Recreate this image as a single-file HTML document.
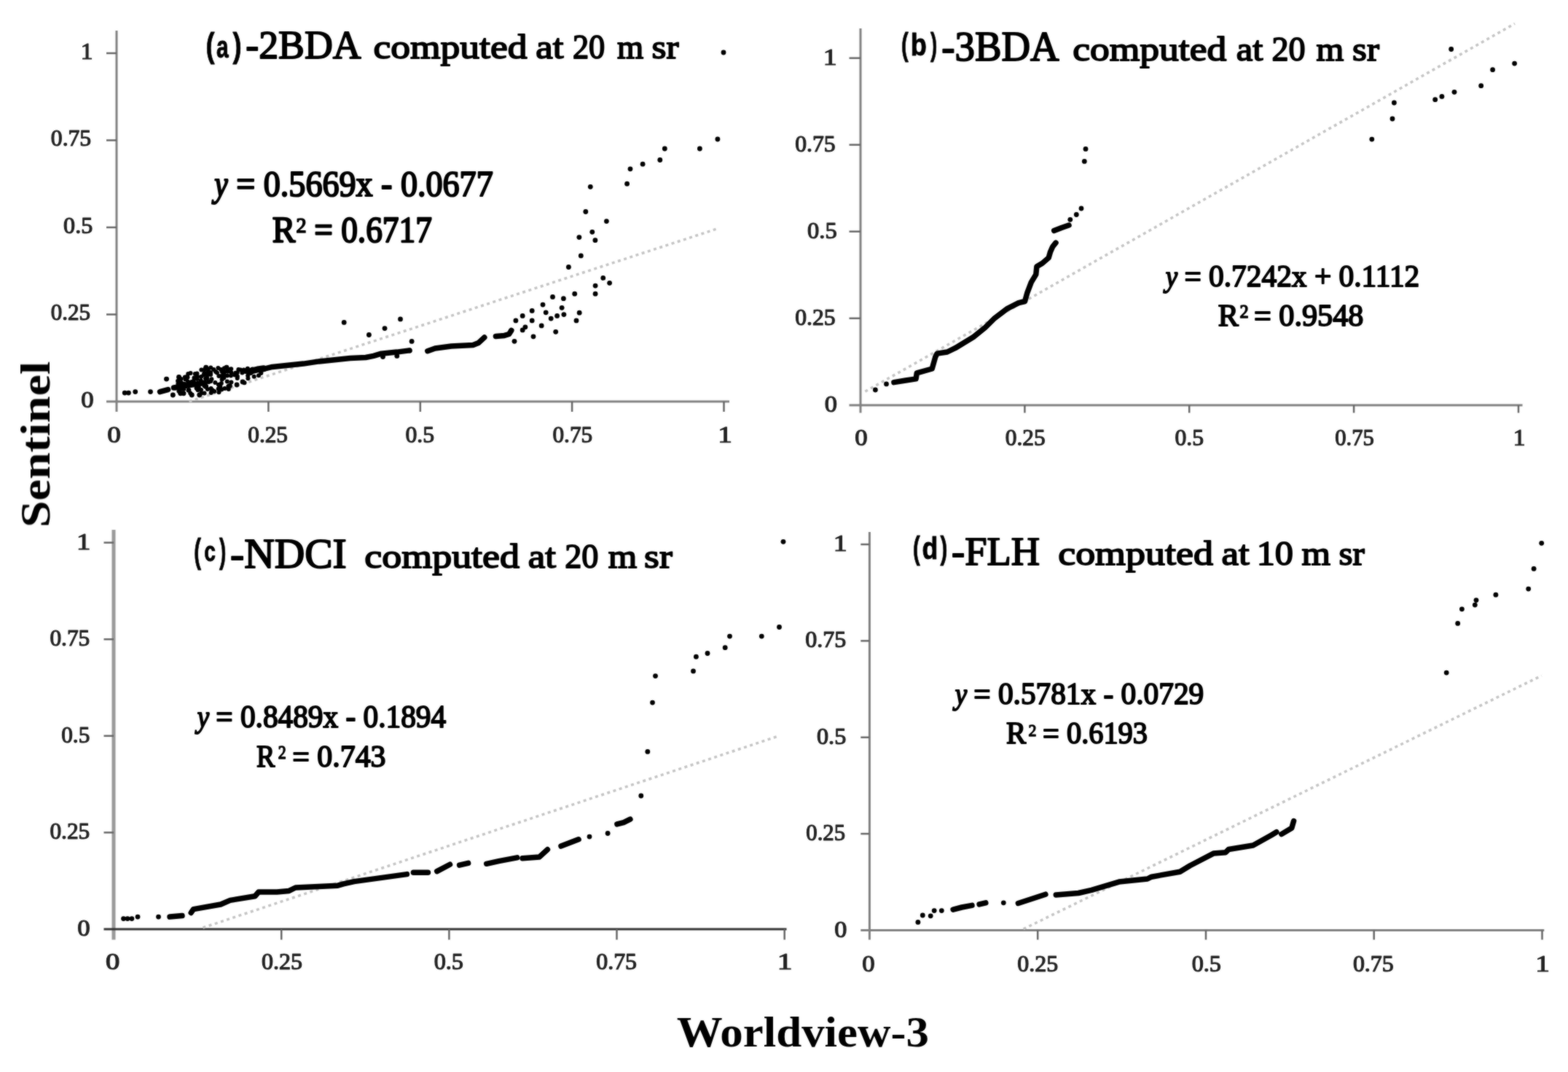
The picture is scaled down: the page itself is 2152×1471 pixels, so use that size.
<!DOCTYPE html>
<html><head><meta charset="utf-8"><title>Sentinel vs Worldview-3</title>
<style>
html,body{margin:0;padding:0;background:#fff;width:2152px;height:1471px;overflow:hidden;}
svg{display:block;}
</style></head><body>
<svg width="2152" height="1471" viewBox="0 0 2152 1471">
<defs><filter id="soft" x="0" y="0" width="2152" height="1471" filterUnits="userSpaceOnUse" color-interpolation-filters="sRGB"><feGaussianBlur in="SourceGraphic" stdDeviation="1" result="b"/><feComposite in="SourceGraphic" in2="b" operator="arithmetic" k1="0" k2="0.5" k3="0.5" k4="0"/></filter></defs>
<rect width="2152" height="1471" fill="#fff"/>
<g filter="url(#soft)">
<line x1="160" y1="42" x2="160" y2="565" stroke="#808080" stroke-width="3"/>
<line x1="146" y1="551" x2="1001" y2="551" stroke="#808080" stroke-width="3"/>
<line x1="146" y1="73" x2="160" y2="73" stroke="#666" stroke-width="2.5"/>
<line x1="146" y1="192.5" x2="160" y2="192.5" stroke="#666" stroke-width="2.5"/>
<line x1="146" y1="312" x2="160" y2="312" stroke="#666" stroke-width="2.5"/>
<line x1="146" y1="431.5" x2="160" y2="431.5" stroke="#666" stroke-width="2.5"/>
<line x1="368.4" y1="551" x2="368.4" y2="565" stroke="#666" stroke-width="2.5"/>
<line x1="576.8" y1="551" x2="576.8" y2="565" stroke="#666" stroke-width="2.5"/>
<line x1="785.1" y1="551" x2="785.1" y2="565" stroke="#666" stroke-width="2.5"/>
<line x1="993.5" y1="551" x2="993.5" y2="565" stroke="#666" stroke-width="2.5"/>
<line x1="259.5" y1="551" x2="987" y2="313" stroke="#c4c4c4" stroke-width="3.5" stroke-dasharray="4 4.6"/>
<line x1="1181" y1="39" x2="1181" y2="566.5" stroke="#808080" stroke-width="3"/>
<line x1="1165.5" y1="556" x2="2089.5" y2="556" stroke="#808080" stroke-width="3"/>
<line x1="1165.5" y1="79.7" x2="1181" y2="79.7" stroke="#666" stroke-width="2.5"/>
<line x1="1165.5" y1="198.7" x2="1181" y2="198.7" stroke="#666" stroke-width="2.5"/>
<line x1="1165.5" y1="317.7" x2="1181" y2="317.7" stroke="#666" stroke-width="2.5"/>
<line x1="1165.5" y1="436.8" x2="1181" y2="436.8" stroke="#666" stroke-width="2.5"/>
<line x1="1406.4" y1="556" x2="1406.4" y2="566.5" stroke="#666" stroke-width="2.5"/>
<line x1="1632.2" y1="556" x2="1632.2" y2="566.5" stroke="#666" stroke-width="2.5"/>
<line x1="1858.1" y1="556" x2="1858.1" y2="566.5" stroke="#666" stroke-width="2.5"/>
<line x1="2084" y1="556" x2="2084" y2="566.5" stroke="#666" stroke-width="2.5"/>
<line x1="1187.4" y1="537.3" x2="2079" y2="32.4" stroke="#c4c4c4" stroke-width="3.5" stroke-dasharray="4 4.6"/>
<line x1="156" y1="727" x2="156" y2="1289.5" stroke="#9a9a9a" stroke-width="5"/>
<line x1="142.5" y1="1275" x2="1079.5" y2="1275" stroke="#333" stroke-width="3"/>
<line x1="142.5" y1="744.6" x2="156" y2="744.6" stroke="#666" stroke-width="2.5"/>
<line x1="142.5" y1="877.2" x2="156" y2="877.2" stroke="#666" stroke-width="2.5"/>
<line x1="142.5" y1="1009.8" x2="156" y2="1009.8" stroke="#666" stroke-width="2.5"/>
<line x1="142.5" y1="1142.4" x2="156" y2="1142.4" stroke="#666" stroke-width="2.5"/>
<line x1="386.2" y1="1275" x2="386.2" y2="1289.5" stroke="#666" stroke-width="2.5"/>
<line x1="616.4" y1="1275" x2="616.4" y2="1289.5" stroke="#666" stroke-width="2.5"/>
<line x1="846.5" y1="1275" x2="846.5" y2="1289.5" stroke="#666" stroke-width="2.5"/>
<line x1="1076.7" y1="1275" x2="1076.7" y2="1289.5" stroke="#666" stroke-width="2.5"/>
<line x1="278.5" y1="1273" x2="1070" y2="1009.5" stroke="#c4c4c4" stroke-width="3.5" stroke-dasharray="4 4.6"/>
<line x1="1193.4" y1="730" x2="1193.4" y2="1289.5" stroke="#808080" stroke-width="3"/>
<line x1="1181.3" y1="1276.5" x2="2119.3" y2="1276.5" stroke="#808080" stroke-width="3"/>
<line x1="1181.3" y1="747" x2="1193.4" y2="747" stroke="#666" stroke-width="2.5"/>
<line x1="1181.3" y1="879.4" x2="1193.4" y2="879.4" stroke="#666" stroke-width="2.5"/>
<line x1="1181.3" y1="1011.8" x2="1193.4" y2="1011.8" stroke="#666" stroke-width="2.5"/>
<line x1="1181.3" y1="1144.1" x2="1193.4" y2="1144.1" stroke="#666" stroke-width="2.5"/>
<line x1="1424.2" y1="1276.5" x2="1424.2" y2="1289.5" stroke="#666" stroke-width="2.5"/>
<line x1="1655" y1="1276.5" x2="1655" y2="1289.5" stroke="#666" stroke-width="2.5"/>
<line x1="1885.7" y1="1276.5" x2="1885.7" y2="1289.5" stroke="#666" stroke-width="2.5"/>
<line x1="2116.5" y1="1276.5" x2="2116.5" y2="1289.5" stroke="#666" stroke-width="2.5"/>
<line x1="1404.6" y1="1274.8" x2="2115.7" y2="927.2" stroke="#c4c4c4" stroke-width="3.5" stroke-dasharray="4 4.6"/>
<g fill="#000">
<circle cx="993" cy="72" r="3.4"/>
<circle cx="984.9" cy="191" r="3.4"/>
<circle cx="960.4" cy="204" r="3.4"/>
<circle cx="912.3" cy="204" r="3.4"/>
<circle cx="905.8" cy="219.5" r="3.4"/>
<circle cx="882.1" cy="225.2" r="3.4"/>
<circle cx="865" cy="231.8" r="3.4"/>
<circle cx="860.6" cy="252.2" r="3.4"/>
<circle cx="810.3" cy="256.3" r="3.4"/>
<circle cx="803.8" cy="290.5" r="3.4"/>
<circle cx="832.4" cy="303.6" r="3.4"/>
<circle cx="812.8" cy="318.3" r="3.4"/>
<circle cx="794.9" cy="325.6" r="3.4"/>
<circle cx="816.9" cy="329.7" r="3.4"/>
<circle cx="797.3" cy="350.9" r="3.4"/>
<circle cx="780.4" cy="366.5" r="3.4"/>
<circle cx="827.8" cy="381.4" r="3.4"/>
<circle cx="836.6" cy="388.3" r="3.4"/>
<circle cx="817.1" cy="392.1" r="3.4"/>
<circle cx="817.1" cy="403.2" r="3.4"/>
<circle cx="788.7" cy="403.2" r="3.4"/>
<circle cx="758.5" cy="407.4" r="3.4"/>
<circle cx="773.4" cy="409.7" r="3.4"/>
<circle cx="745" cy="418.1" r="3.4"/>
<circle cx="771.1" cy="422.3" r="3.4"/>
<circle cx="730.2" cy="426.4" r="3.4"/>
<circle cx="749.2" cy="428.8" r="3.4"/>
<circle cx="773.9" cy="431.6" r="3.4"/>
<circle cx="764.6" cy="433.4" r="3.4"/>
<circle cx="756.2" cy="437.1" r="3.4"/>
<circle cx="795.2" cy="429.2" r="3.4"/>
<circle cx="791" cy="439.9" r="3.4"/>
<circle cx="717.2" cy="433.4" r="3.4"/>
<circle cx="707.9" cy="439.9" r="3.4"/>
<circle cx="730.2" cy="439.9" r="3.4"/>
<circle cx="743.2" cy="446.9" r="3.4"/>
<circle cx="720.9" cy="448.8" r="3.4"/>
<circle cx="717.2" cy="452.9" r="3.4"/>
<circle cx="762.7" cy="455.3" r="3.4"/>
<circle cx="701.4" cy="453.9" r="3.4"/>
<circle cx="732" cy="461.8" r="3.4"/>
<circle cx="706" cy="468.3" r="3.4"/>
<circle cx="472.2" cy="442.4" r="3.4"/>
<circle cx="506.4" cy="459.5" r="3.4"/>
<circle cx="528" cy="450.6" r="3.4"/>
<circle cx="549.5" cy="437.9" r="3.4"/>
<circle cx="565.1" cy="468.4" r="3.4"/>
<circle cx="525.5" cy="489.5" r="3.4"/>
<circle cx="544.8" cy="488.4" r="3.4"/>
<circle cx="562.2" cy="481" r="3.4"/>
<circle cx="171.2" cy="539.1" r="3.4"/>
<circle cx="176.4" cy="539.1" r="3.4"/>
<circle cx="185.7" cy="537.6" r="3.4"/>
<circle cx="206.5" cy="537.6" r="3.4"/>
<circle cx="228.4" cy="520.1" r="3.4"/>
<circle cx="245.5" cy="517.5" r="3.4"/>
<circle cx="256.7" cy="517.5" r="3.4"/>
<circle cx="237.3" cy="542" r="3.4"/>
<circle cx="247.7" cy="539.8" r="3.4"/>
<circle cx="252" cy="539.8" r="3.4"/>
<circle cx="258.9" cy="535.4" r="3.4"/>
<circle cx="263.3" cy="542" r="3.4"/>
<circle cx="273.8" cy="542" r="3.4"/>
<circle cx="270" cy="532.4" r="3.4"/>
<circle cx="282.7" cy="504.1" r="3.4"/>
<circle cx="311" cy="504.1" r="3.4"/>
<circle cx="282.7" cy="530.1" r="3.4"/>
<circle cx="290.9" cy="536.1" r="3.4"/>
<circle cx="302" cy="530.9" r="3.4"/>
<circle cx="315.4" cy="529.4" r="3.4"/>
<circle cx="325" cy="528" r="3.4"/>
<circle cx="333" cy="524" r="3.4"/>
<circle cx="241" cy="532" r="3.4"/>
<path d="M219.5 537.6 L230.6 534.6" fill="none" stroke="#000" stroke-width="7.5" stroke-linecap="round" stroke-linejoin="round"/>
<path d="M238.5 532 L260 528.5 L281 525.3" fill="none" stroke="#000" stroke-width="7.5" stroke-linecap="round" stroke-linejoin="round"/>
<circle cx="244.1" cy="522.7" r="3.0"/>
<circle cx="244.4" cy="526.5" r="3.0"/>
<circle cx="244.9" cy="531.6" r="3.0"/>
<circle cx="245.4" cy="536.8" r="3.0"/>
<circle cx="248.5" cy="520.1" r="3.0"/>
<circle cx="249" cy="525.3" r="3.0"/>
<circle cx="249.3" cy="529.4" r="3.0"/>
<circle cx="249.3" cy="533.7" r="3.0"/>
<circle cx="247.3" cy="539.1" r="3.0"/>
<circle cx="253.8" cy="517.4" r="3.0"/>
<circle cx="254.4" cy="520.6" r="3.0"/>
<circle cx="253" cy="526.7" r="3.0"/>
<circle cx="252.2" cy="533.9" r="3.0"/>
<circle cx="258.2" cy="512.9" r="3.0"/>
<circle cx="257.5" cy="517.7" r="3.0"/>
<circle cx="258" cy="523.8" r="3.0"/>
<circle cx="261.5" cy="512" r="3.0"/>
<circle cx="263" cy="524" r="3.0"/>
<circle cx="261.2" cy="539.6" r="3.0"/>
<circle cx="267.8" cy="512.9" r="3.0"/>
<circle cx="266.4" cy="518.5" r="3.0"/>
<circle cx="265.7" cy="522.7" r="3.0"/>
<circle cx="267.6" cy="526.5" r="3.0"/>
<circle cx="270.4" cy="512.5" r="3.0"/>
<circle cx="270.8" cy="516.5" r="3.0"/>
<circle cx="270.6" cy="520.1" r="3.0"/>
<circle cx="272.9" cy="531.7" r="3.0"/>
<circle cx="271.5" cy="535.2" r="3.0"/>
<circle cx="276.4" cy="507.4" r="3.0"/>
<circle cx="276" cy="516.9" r="3.0"/>
<circle cx="275.6" cy="522.2" r="3.0"/>
<circle cx="276" cy="534.9" r="3.0"/>
<circle cx="276.5" cy="539.6" r="3.0"/>
<circle cx="281.2" cy="506.5" r="3.0"/>
<circle cx="280.4" cy="511.7" r="3.0"/>
<circle cx="279.5" cy="514.5" r="3.0"/>
<circle cx="282.1" cy="519.6" r="3.0"/>
<circle cx="281.1" cy="524.4" r="3.0"/>
<circle cx="280.3" cy="529.2" r="3.0"/>
<circle cx="280.5" cy="539.5" r="3.0"/>
<circle cx="285.6" cy="506.7" r="3.0"/>
<circle cx="284.6" cy="511.5" r="3.0"/>
<circle cx="284.5" cy="515" r="3.0"/>
<circle cx="284.3" cy="519.3" r="3.0"/>
<circle cx="286.3" cy="524.3" r="3.0"/>
<circle cx="284.9" cy="534" r="3.0"/>
<circle cx="289.2" cy="504.4" r="3.0"/>
<circle cx="289.1" cy="511" r="3.0"/>
<circle cx="289.1" cy="514.1" r="3.0"/>
<circle cx="290.4" cy="520.2" r="3.0"/>
<circle cx="289" cy="523.3" r="3.0"/>
<circle cx="289.6" cy="532.9" r="3.0"/>
<circle cx="289.7" cy="538.9" r="3.0"/>
<circle cx="293.2" cy="506.9" r="3.0"/>
<circle cx="296" cy="510" r="3.0"/>
<circle cx="295.3" cy="525" r="3.0"/>
<circle cx="294.2" cy="537.1" r="3.0"/>
<circle cx="299.4" cy="505.1" r="3.0"/>
<circle cx="297.9" cy="511.5" r="3.0"/>
<circle cx="300.4" cy="516" r="3.0"/>
<circle cx="299.9" cy="527.8" r="3.0"/>
<circle cx="299.7" cy="533.4" r="3.0"/>
<circle cx="300.4" cy="538.2" r="3.0"/>
<circle cx="303.1" cy="506.9" r="3.0"/>
<circle cx="304.6" cy="510" r="3.0"/>
<circle cx="303.9" cy="515.9" r="3.0"/>
<circle cx="304.6" cy="520.8" r="3.0"/>
<circle cx="304.2" cy="534.5" r="3.0"/>
<circle cx="307.8" cy="505.3" r="3.0"/>
<circle cx="308.2" cy="510.5" r="3.0"/>
<circle cx="307" cy="513.9" r="3.0"/>
<circle cx="307.3" cy="518.6" r="3.0"/>
<circle cx="308.4" cy="533" r="3.0"/>
<circle cx="312.6" cy="506.5" r="3.0"/>
<circle cx="312.6" cy="509.8" r="3.0"/>
<circle cx="311.9" cy="515.4" r="3.0"/>
<circle cx="311.8" cy="523.6" r="3.0"/>
<circle cx="313.3" cy="529.9" r="3.0"/>
<circle cx="313.8" cy="534" r="3.0"/>
<circle cx="317.2" cy="506.2" r="3.0"/>
<circle cx="317.4" cy="511.3" r="3.0"/>
<circle cx="316.9" cy="515.5" r="3.0"/>
<circle cx="317.4" cy="524.4" r="3.0"/>
<circle cx="323.3" cy="511.7" r="3.0"/>
<circle cx="322.1" cy="514.4" r="3.0"/>
<circle cx="327.3" cy="507.1" r="3.0"/>
<circle cx="325.7" cy="511.3" r="3.0"/>
<circle cx="325.8" cy="516.4" r="3.0"/>
<circle cx="325.7" cy="519.1" r="3.0"/>
<circle cx="330.1" cy="507.5" r="3.0"/>
<circle cx="332.4" cy="511.6" r="3.0"/>
<circle cx="334.7" cy="507.4" r="3.0"/>
<circle cx="336.6" cy="510.1" r="3.0"/>
<circle cx="335.5" cy="525.2" r="3.0"/>
<circle cx="339.9" cy="505.8" r="3.0"/>
<circle cx="340.9" cy="512" r="3.0"/>
<circle cx="340.2" cy="515.6" r="3.0"/>
<circle cx="340.4" cy="519.3" r="3.0"/>
<circle cx="346.5" cy="506.5" r="3.0"/>
<circle cx="344.2" cy="511.9" r="3.0"/>
<circle cx="349.8" cy="507.2" r="3.0"/>
<circle cx="348.7" cy="516.7" r="3.0"/>
<circle cx="355" cy="515.2" r="3.0"/>
<circle cx="358.2" cy="507.2" r="3.0"/>
<circle cx="358.3" cy="512.1" r="3.0"/>
<circle cx="237.3" cy="542.2" r="3.0"/>
<circle cx="249.4" cy="539.2" r="3.0"/>
<circle cx="262.7" cy="541.6" r="3.0"/>
<circle cx="273.6" cy="541.6" r="3.0"/>
<circle cx="259.1" cy="535.6" r="3.0"/>
<circle cx="270" cy="532" r="3.0"/>
<circle cx="282" cy="530.7" r="3.0"/>
<circle cx="291.7" cy="535.6" r="3.0"/>
<circle cx="301.4" cy="530.7" r="3.0"/>
<circle cx="314.6" cy="529.5" r="3.0"/>
<circle cx="303.8" cy="525.9" r="3.0"/>
<circle cx="228.9" cy="519.9" r="3.0"/>
<circle cx="245.8" cy="517.5" r="3.0"/>
<circle cx="256.7" cy="517.5" r="3.0"/>
<path d="M341 510.2 L353.3 507 L362 505.8" fill="none" stroke="#000" stroke-width="9" stroke-linecap="round" stroke-linejoin="round"/>
<path d="M356.7 507.6 L373.8 503.4 L395.1 501.2 L416.5 499.1 L437.9 495.9 L459.3 493.7 L480.6 491.6 L502 490.5 L512.7 488.4 L523.4 485.2 L544.8 483.1 L561.9 480.9" fill="none" stroke="#000" stroke-width="7.5" stroke-linecap="round" stroke-linejoin="round"/>
<path d="M586.8 481.7 L597.2 478 L619.5 475 L634.3 474.3 L649.2 473.5 L656.7 470.6 L664.8 463.1" fill="none" stroke="#000" stroke-width="7.5" stroke-linecap="round" stroke-linejoin="round"/>
<path d="M680.4 461.5 L692.3 460.4 L698.6 458.5 L701.8 453.5" fill="none" stroke="#000" stroke-width="7.5" stroke-linecap="round" stroke-linejoin="round"/>
<circle cx="1201.4" cy="535" r="3.4"/>
<circle cx="1216.5" cy="526.9" r="3.4"/>
<circle cx="1468.8" cy="301.3" r="3.4"/>
<circle cx="1477.3" cy="294.5" r="3.4"/>
<circle cx="1484" cy="286" r="3.4"/>
<circle cx="1488.3" cy="221.4" r="3.4"/>
<circle cx="1490" cy="204.4" r="3.4"/>
<circle cx="1882.8" cy="191.1" r="3.4"/>
<circle cx="1911" cy="163" r="3.4"/>
<circle cx="1913.4" cy="141" r="3.4"/>
<circle cx="1969.7" cy="136.7" r="3.4"/>
<circle cx="1978.9" cy="132.4" r="3.4"/>
<circle cx="1996" cy="126.3" r="3.4"/>
<circle cx="2032.7" cy="117.7" r="3.4"/>
<circle cx="2048.6" cy="95.7" r="3.4"/>
<circle cx="2078.6" cy="87.1" r="3.4"/>
<circle cx="1991.7" cy="67.5" r="3.4"/>
<path d="M1226.9 524.6 L1243 522 L1257.1 519.9 L1258.3 511.8 L1279.2 506 L1283.8 489.7 L1286.2 485.1 L1300 483 L1310.9 477.7 L1335.9 462.5 L1352.2 449.4 L1365.3 436.4 L1382.7 423.3 L1397.9 415.7 L1406.6 413.5 L1409.9 401.6 L1415.3 387.4 L1421.8 376.6 L1422.9 365.7 L1430.5 361.3 L1439.2 353.7 L1441.4 346.1 L1444.7 338.5 L1449 333.1" fill="none" stroke="#000" stroke-width="7.5" stroke-linecap="round" stroke-linejoin="round"/>
<path d="M1446.7 316.6 L1457 312.5 L1467 309" fill="none" stroke="#000" stroke-width="7.5" stroke-linecap="round" stroke-linejoin="round"/>
<circle cx="169.5" cy="1260.6" r="3.4"/>
<circle cx="175" cy="1260.6" r="3.4"/>
<circle cx="180.9" cy="1260.6" r="3.4"/>
<circle cx="189" cy="1258.1" r="3.4"/>
<circle cx="217.5" cy="1258.1" r="3.4"/>
<circle cx="809" cy="1148.1" r="3.4"/>
<circle cx="834.1" cy="1143.5" r="3.4"/>
<circle cx="879.8" cy="1092" r="3.4"/>
<circle cx="888.8" cy="1031.4" r="3.4"/>
<circle cx="895.5" cy="964.1" r="3.4"/>
<circle cx="899.5" cy="927.6" r="3.4"/>
<circle cx="951.5" cy="920.9" r="3.4"/>
<circle cx="955.4" cy="901.2" r="3.4"/>
<circle cx="971" cy="896.5" r="3.4"/>
<circle cx="995.2" cy="888.7" r="3.4"/>
<circle cx="1001.5" cy="873.1" r="3.4"/>
<circle cx="1045.3" cy="873.1" r="3.4"/>
<circle cx="1069.5" cy="860.5" r="3.4"/>
<circle cx="1075" cy="743.3" r="3.4"/>
<path d="M233 1258.1 L250 1256.5" fill="none" stroke="#000" stroke-width="7.5" stroke-linecap="round" stroke-linejoin="round"/>
<path d="M262.2 1252.5 L265.5 1247.6 L302.9 1241 L315.9 1235.4 L350 1229.7 L354.9 1224 L380 1224 L396.7 1222.4 L405.6 1218 L463.6 1215.2 L471.4 1212.9 L486 1209.6 L558.4 1199.6" fill="none" stroke="#000" stroke-width="7.5" stroke-linecap="round" stroke-linejoin="round"/>
<path d="M567.4 1197.3 L587.4 1197.3" fill="none" stroke="#000" stroke-width="7.5" stroke-linecap="round" stroke-linejoin="round"/>
<path d="M599.7 1195.6 L617.5 1186.2" fill="none" stroke="#000" stroke-width="7.5" stroke-linecap="round" stroke-linejoin="round"/>
<path d="M630.6 1187.1 L642.6 1184.3" fill="none" stroke="#000" stroke-width="7.5" stroke-linecap="round" stroke-linejoin="round"/>
<path d="M667.7 1185.3 L684.5 1181.6 L709.6 1176.9" fill="none" stroke="#000" stroke-width="7.5" stroke-linecap="round" stroke-linejoin="round"/>
<path d="M717 1177.8 L740.2 1176 L751.4 1165.8" fill="none" stroke="#000" stroke-width="7.5" stroke-linecap="round" stroke-linejoin="round"/>
<path d="M770 1161.1 L794.1 1151.8" fill="none" stroke="#000" stroke-width="7.5" stroke-linecap="round" stroke-linejoin="round"/>
<path d="M846.9 1130.9 L855.9 1128.6 L864.9 1124.2" fill="none" stroke="#000" stroke-width="7.5" stroke-linecap="round" stroke-linejoin="round"/>
<circle cx="1259.9" cy="1265.4" r="3.4"/>
<circle cx="1266.3" cy="1256" r="3.4"/>
<circle cx="1277.2" cy="1256.8" r="3.4"/>
<circle cx="1282.2" cy="1249.6" r="3.4"/>
<circle cx="1292.3" cy="1249.6" r="3.4"/>
<circle cx="1377.3" cy="1238.8" r="3.4"/>
<circle cx="1985.2" cy="923.1" r="3.4"/>
<circle cx="2000.7" cy="855.4" r="3.4"/>
<circle cx="2006.4" cy="835.8" r="3.4"/>
<circle cx="2024.3" cy="830.1" r="3.4"/>
<circle cx="2026" cy="823.6" r="3.4"/>
<circle cx="2052.9" cy="816.2" r="3.4"/>
<circle cx="2097.7" cy="808.1" r="3.4"/>
<circle cx="2105.1" cy="780.4" r="3.4"/>
<circle cx="2115.7" cy="745.3" r="3.4"/>
<path d="M1308.1 1248.1 L1320 1245 L1334 1242.4" fill="none" stroke="#000" stroke-width="7.5" stroke-linecap="round" stroke-linejoin="round"/>
<path d="M1344.1 1240.9 L1352.8 1238.8" fill="none" stroke="#000" stroke-width="7.5" stroke-linecap="round" stroke-linejoin="round"/>
<path d="M1397.4 1239.5 L1434.9 1227.2" fill="none" stroke="#000" stroke-width="7.5" stroke-linecap="round" stroke-linejoin="round"/>
<path d="M1449.3 1228 L1480 1225.5 L1498.1 1221.3 L1535.8 1210.1 L1574.8 1206 L1580.4 1203.2 L1619.4 1196.2 L1633.4 1187.8 L1665.4 1171.1 L1682.1 1169.7 L1686.3 1165.5 L1719.8 1160 L1744.9 1146 L1751.9 1141.8" fill="none" stroke="#000" stroke-width="7.5" stroke-linecap="round" stroke-linejoin="round"/>
<path d="M1758.8 1144.6 L1772.8 1136.2 L1775.6 1126.5" fill="none" stroke="#000" stroke-width="7.5" stroke-linecap="round" stroke-linejoin="round"/>
</g>
<text x="110.7" y="80.8" font-size="31.5" textLength="16.7" lengthAdjust="spacingAndGlyphs" style="font-family:'Liberation Serif', serif;font-weight:normal;font-style:normal" fill="#222" stroke="#222" stroke-width="1.2" stroke-linejoin="round">1</text>
<text x="69.8" y="200.3" font-size="31.5" textLength="55.4" lengthAdjust="spacingAndGlyphs" style="font-family:'Liberation Serif', serif;font-weight:normal;font-style:normal" fill="#222" stroke="#222" stroke-width="1.2" stroke-linejoin="round">0.75</text>
<text x="87.1" y="319.8" font-size="31.5" textLength="40.1" lengthAdjust="spacingAndGlyphs" style="font-family:'Liberation Serif', serif;font-weight:normal;font-style:normal" fill="#222" stroke="#222" stroke-width="1.2" stroke-linejoin="round">0.5</text>
<text x="69.8" y="439.3" font-size="31.5" textLength="54.3" lengthAdjust="spacingAndGlyphs" style="font-family:'Liberation Serif', serif;font-weight:normal;font-style:normal" fill="#222" stroke="#222" stroke-width="1.2" stroke-linejoin="round">0.25</text>
<text x="111.3" y="558.8" font-size="31.5" textLength="17.4" lengthAdjust="spacingAndGlyphs" style="font-family:'Liberation Serif', serif;font-weight:normal;font-style:normal" fill="#222" stroke="#222" stroke-width="1.2" stroke-linejoin="round">0</text>
<text x="147.2" y="606.5" font-size="31.5" textLength="18.6" lengthAdjust="spacingAndGlyphs" style="font-family:'Liberation Serif', serif;font-weight:normal;font-style:normal" fill="#222" stroke="#222" stroke-width="1.2" stroke-linejoin="round">0</text>
<text x="340.3" y="606.5" font-size="31.5" textLength="54.6" lengthAdjust="spacingAndGlyphs" style="font-family:'Liberation Serif', serif;font-weight:normal;font-style:normal" fill="#222" stroke="#222" stroke-width="1.2" stroke-linejoin="round">0.25</text>
<text x="556.4" y="606.5" font-size="31.5" textLength="39.6" lengthAdjust="spacingAndGlyphs" style="font-family:'Liberation Serif', serif;font-weight:normal;font-style:normal" fill="#222" stroke="#222" stroke-width="1.2" stroke-linejoin="round">0.5</text>
<text x="758.4" y="606.5" font-size="31.5" textLength="54.8" lengthAdjust="spacingAndGlyphs" style="font-family:'Liberation Serif', serif;font-weight:normal;font-style:normal" fill="#222" stroke="#222" stroke-width="1.2" stroke-linejoin="round">0.75</text>
<text x="985.2" y="606.5" font-size="31.5" textLength="19.6" lengthAdjust="spacingAndGlyphs" style="font-family:'Liberation Serif', serif;font-weight:normal;font-style:normal" fill="#222" stroke="#222" stroke-width="1.2" stroke-linejoin="round">1</text>
<text x="1129.8" y="88.7" font-size="31.5" textLength="18.9" lengthAdjust="spacingAndGlyphs" style="font-family:'Liberation Serif', serif;font-weight:normal;font-style:normal" fill="#222" stroke="#222" stroke-width="1.2" stroke-linejoin="round">1</text>
<text x="1091.2" y="207.7" font-size="31.5" textLength="55.5" lengthAdjust="spacingAndGlyphs" style="font-family:'Liberation Serif', serif;font-weight:normal;font-style:normal" fill="#222" stroke="#222" stroke-width="1.2" stroke-linejoin="round">0.75</text>
<text x="1108" y="326.7" font-size="31.5" textLength="40.7" lengthAdjust="spacingAndGlyphs" style="font-family:'Liberation Serif', serif;font-weight:normal;font-style:normal" fill="#222" stroke="#222" stroke-width="1.2" stroke-linejoin="round">0.5</text>
<text x="1091.2" y="445.8" font-size="31.5" textLength="55.5" lengthAdjust="spacingAndGlyphs" style="font-family:'Liberation Serif', serif;font-weight:normal;font-style:normal" fill="#222" stroke="#222" stroke-width="1.2" stroke-linejoin="round">0.25</text>
<text x="1131.8" y="564.8" font-size="31.5" textLength="17.2" lengthAdjust="spacingAndGlyphs" style="font-family:'Liberation Serif', serif;font-weight:normal;font-style:normal" fill="#222" stroke="#222" stroke-width="1.2" stroke-linejoin="round">0</text>
<text x="1173.3" y="611" font-size="31.5" textLength="17.4" lengthAdjust="spacingAndGlyphs" style="font-family:'Liberation Serif', serif;font-weight:normal;font-style:normal" fill="#222" stroke="#222" stroke-width="1.2" stroke-linejoin="round">0</text>
<text x="1379.8" y="611" font-size="31.5" textLength="54.9" lengthAdjust="spacingAndGlyphs" style="font-family:'Liberation Serif', serif;font-weight:normal;font-style:normal" fill="#222" stroke="#222" stroke-width="1.2" stroke-linejoin="round">0.25</text>
<text x="1612.4" y="611" font-size="31.5" textLength="39.6" lengthAdjust="spacingAndGlyphs" style="font-family:'Liberation Serif', serif;font-weight:normal;font-style:normal" fill="#222" stroke="#222" stroke-width="1.2" stroke-linejoin="round">0.5</text>
<text x="1832.3" y="611" font-size="31.5" textLength="53.6" lengthAdjust="spacingAndGlyphs" style="font-family:'Liberation Serif', serif;font-weight:normal;font-style:normal" fill="#222" stroke="#222" stroke-width="1.2" stroke-linejoin="round">0.75</text>
<text x="2076.7" y="611" font-size="31.5" textLength="16.7" lengthAdjust="spacingAndGlyphs" style="font-family:'Liberation Serif', serif;font-weight:normal;font-style:normal" fill="#222" stroke="#222" stroke-width="1.2" stroke-linejoin="round">1</text>
<text x="104.9" y="753.6" font-size="31.5" textLength="19.3" lengthAdjust="spacingAndGlyphs" style="font-family:'Liberation Serif', serif;font-weight:normal;font-style:normal" fill="#222" stroke="#222" stroke-width="1.2" stroke-linejoin="round">1</text>
<text x="68.4" y="886.2" font-size="31.5" textLength="54.9" lengthAdjust="spacingAndGlyphs" style="font-family:'Liberation Serif', serif;font-weight:normal;font-style:normal" fill="#222" stroke="#222" stroke-width="1.2" stroke-linejoin="round">0.75</text>
<text x="84.2" y="1018.8" font-size="31.5" textLength="39.1" lengthAdjust="spacingAndGlyphs" style="font-family:'Liberation Serif', serif;font-weight:normal;font-style:normal" fill="#222" stroke="#222" stroke-width="1.2" stroke-linejoin="round">0.5</text>
<text x="68.4" y="1151.4" font-size="31.5" textLength="54.9" lengthAdjust="spacingAndGlyphs" style="font-family:'Liberation Serif', serif;font-weight:normal;font-style:normal" fill="#222" stroke="#222" stroke-width="1.2" stroke-linejoin="round">0.25</text>
<text x="106.3" y="1284" font-size="31.5" textLength="17.4" lengthAdjust="spacingAndGlyphs" style="font-family:'Liberation Serif', serif;font-weight:normal;font-style:normal" fill="#222" stroke="#222" stroke-width="1.2" stroke-linejoin="round">0</text>
<text x="145" y="1330" font-size="31.5" textLength="19.3" lengthAdjust="spacingAndGlyphs" style="font-family:'Liberation Serif', serif;font-weight:normal;font-style:normal" fill="#222" stroke="#222" stroke-width="1.2" stroke-linejoin="round">0</text>
<text x="358.9" y="1330" font-size="31.5" textLength="56" lengthAdjust="spacingAndGlyphs" style="font-family:'Liberation Serif', serif;font-weight:normal;font-style:normal" fill="#222" stroke="#222" stroke-width="1.2" stroke-linejoin="round">0.25</text>
<text x="595.7" y="1330" font-size="31.5" textLength="40.3" lengthAdjust="spacingAndGlyphs" style="font-family:'Liberation Serif', serif;font-weight:normal;font-style:normal" fill="#222" stroke="#222" stroke-width="1.2" stroke-linejoin="round">0.5</text>
<text x="818.2" y="1330" font-size="31.5" textLength="55.9" lengthAdjust="spacingAndGlyphs" style="font-family:'Liberation Serif', serif;font-weight:normal;font-style:normal" fill="#222" stroke="#222" stroke-width="1.2" stroke-linejoin="round">0.75</text>
<text x="1066.7" y="1330" font-size="31.5" textLength="20.7" lengthAdjust="spacingAndGlyphs" style="font-family:'Liberation Serif', serif;font-weight:normal;font-style:normal" fill="#222" stroke="#222" stroke-width="1.2" stroke-linejoin="round">1</text>
<text x="1143.8" y="756" font-size="31.5" textLength="18.9" lengthAdjust="spacingAndGlyphs" style="font-family:'Liberation Serif', serif;font-weight:normal;font-style:normal" fill="#222" stroke="#222" stroke-width="1.2" stroke-linejoin="round">1</text>
<text x="1105.2" y="888.4" font-size="31.5" textLength="56.1" lengthAdjust="spacingAndGlyphs" style="font-family:'Liberation Serif', serif;font-weight:normal;font-style:normal" fill="#222" stroke="#222" stroke-width="1.2" stroke-linejoin="round">0.75</text>
<text x="1121" y="1020.8" font-size="31.5" textLength="40.3" lengthAdjust="spacingAndGlyphs" style="font-family:'Liberation Serif', serif;font-weight:normal;font-style:normal" fill="#222" stroke="#222" stroke-width="1.2" stroke-linejoin="round">0.5</text>
<text x="1106.3" y="1153.1" font-size="31.5" textLength="53.8" lengthAdjust="spacingAndGlyphs" style="font-family:'Liberation Serif', serif;font-weight:normal;font-style:normal" fill="#222" stroke="#222" stroke-width="1.2" stroke-linejoin="round">0.25</text>
<text x="1145.3" y="1285.5" font-size="31.5" textLength="17.1" lengthAdjust="spacingAndGlyphs" style="font-family:'Liberation Serif', serif;font-weight:normal;font-style:normal" fill="#222" stroke="#222" stroke-width="1.2" stroke-linejoin="round">0</text>
<text x="1183.3" y="1332.5" font-size="31.5" textLength="17.4" lengthAdjust="spacingAndGlyphs" style="font-family:'Liberation Serif', serif;font-weight:normal;font-style:normal" fill="#222" stroke="#222" stroke-width="1.2" stroke-linejoin="round">0</text>
<text x="1396.3" y="1332.5" font-size="31.5" textLength="56" lengthAdjust="spacingAndGlyphs" style="font-family:'Liberation Serif', serif;font-weight:normal;font-style:normal" fill="#222" stroke="#222" stroke-width="1.2" stroke-linejoin="round">0.25</text>
<text x="1635.7" y="1332.5" font-size="31.5" textLength="40.3" lengthAdjust="spacingAndGlyphs" style="font-family:'Liberation Serif', serif;font-weight:normal;font-style:normal" fill="#222" stroke="#222" stroke-width="1.2" stroke-linejoin="round">0.5</text>
<text x="1856.9" y="1332.5" font-size="31.5" textLength="55.9" lengthAdjust="spacingAndGlyphs" style="font-family:'Liberation Serif', serif;font-weight:normal;font-style:normal" fill="#222" stroke="#222" stroke-width="1.2" stroke-linejoin="round">0.75</text>
<text x="2107.2" y="1332.5" font-size="31.5" textLength="19.6" lengthAdjust="spacingAndGlyphs" style="font-family:'Liberation Serif', serif;font-weight:normal;font-style:normal" fill="#222" stroke="#222" stroke-width="1.2" stroke-linejoin="round">1</text>
<text x="282.6" y="78.1" font-size="45.9" textLength="12" lengthAdjust="spacingAndGlyphs" style="font-family:'Liberation Sans', sans-serif;font-weight:bold;font-style:normal" stroke="#000" stroke-width="0.9" stroke-linejoin="round">(</text>
<text x="296.9" y="79.1" font-size="43.3" textLength="16.7" lengthAdjust="spacingAndGlyphs" style="font-family:'Liberation Sans', sans-serif;font-weight:bold;font-style:normal" stroke="#000" stroke-width="0.9" stroke-linejoin="round">a</text>
<text x="319.4" y="78.1" font-size="45.9" textLength="12.1" lengthAdjust="spacingAndGlyphs" style="font-family:'Liberation Sans', sans-serif;font-weight:bold;font-style:normal" stroke="#000" stroke-width="0.9" stroke-linejoin="round">)</text>
<text x="337.3" y="80.2" font-size="55" textLength="158.3" lengthAdjust="spacingAndGlyphs" style="font-family:'Liberation Serif', serif;font-weight:normal;font-style:normal" stroke="#000" stroke-width="1.9" stroke-linejoin="round">-2BDA</text>
<text x="512.4" y="80.2" font-size="47" textLength="211.1" lengthAdjust="spacingAndGlyphs" style="font-family:'Liberation Serif', serif;font-weight:normal;font-style:normal" stroke="#000" stroke-width="1.8" stroke-linejoin="round">computed</text>
<text x="735.3" y="80.2" font-size="47" textLength="38.2" lengthAdjust="spacingAndGlyphs" style="font-family:'Liberation Serif', serif;font-weight:normal;font-style:normal" stroke="#000" stroke-width="1.8" stroke-linejoin="round">at</text>
<text x="785.9" y="80.2" font-size="47" textLength="44.4" lengthAdjust="spacingAndGlyphs" style="font-family:'Liberation Serif', serif;font-weight:normal;font-style:normal" stroke="#000" stroke-width="1.8" stroke-linejoin="round">20</text>
<text x="846.9" y="80.2" font-size="47" textLength="36.2" lengthAdjust="spacingAndGlyphs" style="font-family:'Liberation Serif', serif;font-weight:normal;font-style:normal" stroke="#000" stroke-width="1.8" stroke-linejoin="round">m</text>
<text x="894.6" y="80.2" font-size="47" textLength="37" lengthAdjust="spacingAndGlyphs" style="font-family:'Liberation Serif', serif;font-weight:normal;font-style:normal" stroke="#000" stroke-width="1.8" stroke-linejoin="round">sr</text>
<text x="1237.1" y="75.5" font-size="44.6" textLength="9.7" lengthAdjust="spacingAndGlyphs" style="font-family:'Liberation Sans', sans-serif;font-weight:bold;font-style:normal" stroke="#000" stroke-width="0.9" stroke-linejoin="round">(</text>
<text x="1249.7" y="75.8" font-size="42.2" textLength="22.1" lengthAdjust="spacingAndGlyphs" style="font-family:'Liberation Sans', sans-serif;font-weight:bold;font-style:normal" stroke="#000" stroke-width="0.9" stroke-linejoin="round">b</text>
<text x="1276.9" y="75.5" font-size="44.6" textLength="9.2" lengthAdjust="spacingAndGlyphs" style="font-family:'Liberation Sans', sans-serif;font-weight:bold;font-style:normal" stroke="#000" stroke-width="0.9" stroke-linejoin="round">)</text>
<text x="1292.2" y="83" font-size="56.8" textLength="161.5" lengthAdjust="spacingAndGlyphs" style="font-family:'Liberation Serif', serif;font-weight:normal;font-style:normal" stroke="#000" stroke-width="1.9" stroke-linejoin="round">-3BDA</text>
<text x="1472.2" y="83" font-size="47" textLength="211" lengthAdjust="spacingAndGlyphs" style="font-family:'Liberation Serif', serif;font-weight:normal;font-style:normal" stroke="#000" stroke-width="1.8" stroke-linejoin="round">computed</text>
<text x="1696.7" y="83" font-size="47" textLength="36.6" lengthAdjust="spacingAndGlyphs" style="font-family:'Liberation Serif', serif;font-weight:normal;font-style:normal" stroke="#000" stroke-width="1.8" stroke-linejoin="round">at</text>
<text x="1745.5" y="83" font-size="47" textLength="46.1" lengthAdjust="spacingAndGlyphs" style="font-family:'Liberation Serif', serif;font-weight:normal;font-style:normal" stroke="#000" stroke-width="1.8" stroke-linejoin="round">20</text>
<text x="1806.5" y="83" font-size="47" textLength="37.8" lengthAdjust="spacingAndGlyphs" style="font-family:'Liberation Serif', serif;font-weight:normal;font-style:normal" stroke="#000" stroke-width="1.8" stroke-linejoin="round">m</text>
<text x="1856" y="83" font-size="47" textLength="36.9" lengthAdjust="spacingAndGlyphs" style="font-family:'Liberation Serif', serif;font-weight:normal;font-style:normal" stroke="#000" stroke-width="1.8" stroke-linejoin="round">sr</text>
<text x="266.3" y="771.6" font-size="45.5" textLength="9.7" lengthAdjust="spacingAndGlyphs" style="font-family:'Liberation Sans', sans-serif;font-weight:bold;font-style:normal" stroke="#000" stroke-width="0.9" stroke-linejoin="round">(</text>
<text x="280.2" y="770" font-size="38.7" textLength="15.7" lengthAdjust="spacingAndGlyphs" style="font-family:'Liberation Sans', sans-serif;font-weight:bold;font-style:normal" stroke="#000" stroke-width="0.9" stroke-linejoin="round">c</text>
<text x="301.1" y="771.6" font-size="45.5" textLength="9.3" lengthAdjust="spacingAndGlyphs" style="font-family:'Liberation Sans', sans-serif;font-weight:bold;font-style:normal" stroke="#000" stroke-width="0.9" stroke-linejoin="round">)</text>
<text x="316" y="778.5" font-size="58" textLength="159.6" lengthAdjust="spacingAndGlyphs" style="font-family:'Liberation Serif', serif;font-weight:normal;font-style:normal" stroke="#000" stroke-width="2" stroke-linejoin="round">-NDCI</text>
<text x="500.3" y="778.5" font-size="47" textLength="212.7" lengthAdjust="spacingAndGlyphs" style="font-family:'Liberation Serif', serif;font-weight:normal;font-style:normal" stroke="#000" stroke-width="1.8" stroke-linejoin="round">computed</text>
<text x="724.8" y="778.5" font-size="47" textLength="38.2" lengthAdjust="spacingAndGlyphs" style="font-family:'Liberation Serif', serif;font-weight:normal;font-style:normal" stroke="#000" stroke-width="1.8" stroke-linejoin="round">at</text>
<text x="775.2" y="778.5" font-size="47" textLength="46.2" lengthAdjust="spacingAndGlyphs" style="font-family:'Liberation Serif', serif;font-weight:normal;font-style:normal" stroke="#000" stroke-width="1.8" stroke-linejoin="round">20</text>
<text x="834.7" y="778.5" font-size="47" textLength="39.5" lengthAdjust="spacingAndGlyphs" style="font-family:'Liberation Serif', serif;font-weight:normal;font-style:normal" stroke="#000" stroke-width="1.8" stroke-linejoin="round">m</text>
<text x="884.1" y="778.5" font-size="47" textLength="38.6" lengthAdjust="spacingAndGlyphs" style="font-family:'Liberation Serif', serif;font-weight:normal;font-style:normal" stroke="#000" stroke-width="1.8" stroke-linejoin="round">sr</text>
<text x="1253.1" y="766.5" font-size="44.6" textLength="9.7" lengthAdjust="spacingAndGlyphs" style="font-family:'Liberation Sans', sans-serif;font-weight:bold;font-style:normal" stroke="#000" stroke-width="0.9" stroke-linejoin="round">(</text>
<text x="1265.4" y="767.2" font-size="42.2" textLength="21.8" lengthAdjust="spacingAndGlyphs" style="font-family:'Liberation Sans', sans-serif;font-weight:bold;font-style:normal" stroke="#000" stroke-width="0.9" stroke-linejoin="round">d</text>
<text x="1290.4" y="766.5" font-size="44.6" textLength="9.8" lengthAdjust="spacingAndGlyphs" style="font-family:'Liberation Sans', sans-serif;font-weight:bold;font-style:normal" stroke="#000" stroke-width="0.9" stroke-linejoin="round">)</text>
<text x="1306.1" y="774.8" font-size="55.3" textLength="121" lengthAdjust="spacingAndGlyphs" style="font-family:'Liberation Serif', serif;font-weight:normal;font-style:normal" stroke="#000" stroke-width="1.9" stroke-linejoin="round">-FLH</text>
<text x="1452.2" y="774.8" font-size="47" textLength="212.7" lengthAdjust="spacingAndGlyphs" style="font-family:'Liberation Serif', serif;font-weight:normal;font-style:normal" stroke="#000" stroke-width="1.8" stroke-linejoin="round">computed</text>
<text x="1676.6" y="774.8" font-size="47" textLength="38.2" lengthAdjust="spacingAndGlyphs" style="font-family:'Liberation Serif', serif;font-weight:normal;font-style:normal" stroke="#000" stroke-width="1.8" stroke-linejoin="round">at</text>
<text x="1724.7" y="774.8" font-size="47" textLength="50.3" lengthAdjust="spacingAndGlyphs" style="font-family:'Liberation Serif', serif;font-weight:normal;font-style:normal" stroke="#000" stroke-width="1.8" stroke-linejoin="round">10</text>
<text x="1786.5" y="774.8" font-size="47" textLength="39.5" lengthAdjust="spacingAndGlyphs" style="font-family:'Liberation Serif', serif;font-weight:normal;font-style:normal" stroke="#000" stroke-width="1.8" stroke-linejoin="round">m</text>
<text x="1837.6" y="774.8" font-size="47" textLength="35.3" lengthAdjust="spacingAndGlyphs" style="font-family:'Liberation Serif', serif;font-weight:normal;font-style:normal" stroke="#000" stroke-width="1.8" stroke-linejoin="round">sr</text>
<text x="294.3" y="268.7" font-size="49.6" textLength="18.4" lengthAdjust="spacingAndGlyphs" style="font-family:'Liberation Serif', serif;font-weight:normal;font-style:italic" stroke="#000" stroke-width="2.2" stroke-linejoin="round">y</text>
<text x="324.3" y="268.7" font-size="49.6" textLength="352.4" lengthAdjust="spacingAndGlyphs" style="font-family:'Liberation Serif', serif;font-weight:normal;font-style:normal" stroke="#000" stroke-width="2.2" stroke-linejoin="round">= 0.5669x - 0.0677</text>
<text x="373.7" y="332.3" font-size="51" textLength="31.6" lengthAdjust="spacingAndGlyphs" style="font-family:'Liberation Serif', serif;font-weight:normal;font-style:normal" stroke="#000" stroke-width="2.3" stroke-linejoin="round">R</text>
<text x="406.6" y="319.2" font-size="29.1" textLength="14" lengthAdjust="spacingAndGlyphs" style="font-family:'Liberation Serif', serif;font-weight:normal;font-style:normal" stroke="#000" stroke-width="1.7" stroke-linejoin="round">2</text>
<text x="431.3" y="332.3" font-size="51" textLength="161.5" lengthAdjust="spacingAndGlyphs" style="font-family:'Liberation Serif', serif;font-weight:normal;font-style:normal" stroke="#000" stroke-width="2.3" stroke-linejoin="round">= 0.6717</text>
<text x="1599.8" y="392.7" font-size="43.2" textLength="16.4" lengthAdjust="spacingAndGlyphs" style="font-family:'Liberation Serif', serif;font-weight:normal;font-style:italic" stroke="#000" stroke-width="1.9" stroke-linejoin="round">y</text>
<text x="1625.4" y="392.7" font-size="43.2" textLength="322.9" lengthAdjust="spacingAndGlyphs" style="font-family:'Liberation Serif', serif;font-weight:normal;font-style:normal" stroke="#000" stroke-width="1.9" stroke-linejoin="round">= 0.7242x + 0.1112</text>
<text x="1671.8" y="446.7" font-size="42.5" textLength="28.1" lengthAdjust="spacingAndGlyphs" style="font-family:'Liberation Serif', serif;font-weight:normal;font-style:normal" stroke="#000" stroke-width="1.9" stroke-linejoin="round">R</text>
<text x="1701.4" y="435.9" font-size="24.2" textLength="12.1" lengthAdjust="spacingAndGlyphs" style="font-family:'Liberation Serif', serif;font-weight:normal;font-style:normal" stroke="#000" stroke-width="1.5" stroke-linejoin="round">2</text>
<text x="1721" y="446.7" font-size="42.5" textLength="150.4" lengthAdjust="spacingAndGlyphs" style="font-family:'Liberation Serif', serif;font-weight:normal;font-style:normal" stroke="#000" stroke-width="1.9" stroke-linejoin="round">= 0.9548</text>
<text x="270.7" y="998.3" font-size="43.3" textLength="16.4" lengthAdjust="spacingAndGlyphs" style="font-family:'Liberation Serif', serif;font-weight:normal;font-style:italic" stroke="#000" stroke-width="1.9" stroke-linejoin="round">y</text>
<text x="296.3" y="998.3" font-size="43.3" textLength="315.8" lengthAdjust="spacingAndGlyphs" style="font-family:'Liberation Serif', serif;font-weight:normal;font-style:normal" stroke="#000" stroke-width="1.9" stroke-linejoin="round">= 0.8489x - 0.1894</text>
<text x="352.1" y="1052" font-size="42.8" textLength="25.3" lengthAdjust="spacingAndGlyphs" style="font-family:'Liberation Serif', serif;font-weight:normal;font-style:normal" stroke="#000" stroke-width="1.9" stroke-linejoin="round">R</text>
<text x="381.8" y="1041.1" font-size="24.4" textLength="10.9" lengthAdjust="spacingAndGlyphs" style="font-family:'Liberation Serif', serif;font-weight:normal;font-style:normal" stroke="#000" stroke-width="1.5" stroke-linejoin="round">2</text>
<text x="401.3" y="1052" font-size="42.8" textLength="128.2" lengthAdjust="spacingAndGlyphs" style="font-family:'Liberation Serif', serif;font-weight:normal;font-style:normal" stroke="#000" stroke-width="1.9" stroke-linejoin="round">= 0.743</text>
<text x="1310.7" y="965.5" font-size="41.8" textLength="16.4" lengthAdjust="spacingAndGlyphs" style="font-family:'Liberation Serif', serif;font-weight:normal;font-style:italic" stroke="#000" stroke-width="1.9" stroke-linejoin="round">y</text>
<text x="1336.3" y="965.5" font-size="41.8" textLength="315.9" lengthAdjust="spacingAndGlyphs" style="font-family:'Liberation Serif', serif;font-weight:normal;font-style:normal" stroke="#000" stroke-width="1.9" stroke-linejoin="round">= 0.5781x - 0.0729</text>
<text x="1380.9" y="1020.4" font-size="42" textLength="27.2" lengthAdjust="spacingAndGlyphs" style="font-family:'Liberation Serif', serif;font-weight:normal;font-style:normal" stroke="#000" stroke-width="1.9" stroke-linejoin="round">R</text>
<text x="1411.5" y="1009.8" font-size="23.9" textLength="11" lengthAdjust="spacingAndGlyphs" style="font-family:'Liberation Serif', serif;font-weight:normal;font-style:normal" stroke="#000" stroke-width="1.4" stroke-linejoin="round">2</text>
<text x="1431.1" y="1020.4" font-size="42" textLength="143.9" lengthAdjust="spacingAndGlyphs" style="font-family:'Liberation Serif', serif;font-weight:normal;font-style:normal" stroke="#000" stroke-width="1.9" stroke-linejoin="round">= 0.6193</text>
<text x="928.8" y="1436.4" font-size="60" textLength="346.1" lengthAdjust="spacingAndGlyphs" style="font-family:'Liberation Serif', serif;font-weight:bold;font-style:normal">Worldview-3</text>
<text x="-3.5" y="0" font-size="57" textLength="228.2" lengthAdjust="spacingAndGlyphs" style="font-family:'Liberation Serif', serif;font-weight:bold" transform="translate(68,720.4) rotate(-90)">Sentinel</text>
</g>
</svg>
</body></html>
